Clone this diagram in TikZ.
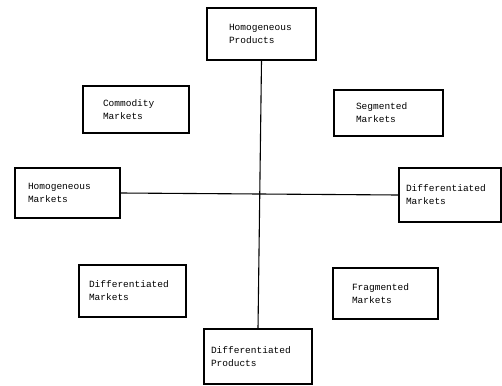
\documentclass[tikz,border=0pt]{standalone}
\usepackage{fontspec}
\setmonofont{Liberation Mono}

\begin{document}
\begin{tikzpicture}[x=1pt, y=-1pt,
	mkt/.style={draw, line width=1.1pt, align=left, inner ysep=2pt, font=\ttfamily\fontsize{9.5}{13}\selectfont}]
\useasboundingbox (0,0) rectangle (502,385);
% boxes: inner xsep is the left margin of the text
\node[mkt, inner xsep=22, text width=65, minimum height=52] (hp) at (261.5,34) {Homogeneous\\Products};
\node[mkt, inner xsep=20, text width=66, minimum height=47] (cm) at (136,109.5) {Commodity\\Markets};
\node[mkt, inner xsep=22, text width=65, minimum height=46] (sm) at (388.5,113) {Segmented\\Markets};
\node[mkt, inner xsep=13, text width=79, minimum height=50] (hm) at (67.5,193) {Homogeneous\\Markets};
\node[mkt, inner xsep=7, text width=88, minimum height=54] (dm) at (450,195) {Differentiated\\Markets};
\node[mkt, inner xsep=10, text width=87, minimum height=52] (dl) at (132.5,291) {Differentiated\\Markets};
\node[mkt, inner xsep=19, text width=67, minimum height=51] (fm) at (385.5,293.5) {Fragmented\\Markets};
\node[mkt, inner xsep=7, text width=94, minimum height=55] (dp) at (258,356.5) {Differentiated\\Products};
% axes
\draw[line width=1.1pt] (hp.south) -- (dp.north);
\draw[line width=1.1pt] (hm.east) -- (dm.west);
\end{tikzpicture}
\end{document}
